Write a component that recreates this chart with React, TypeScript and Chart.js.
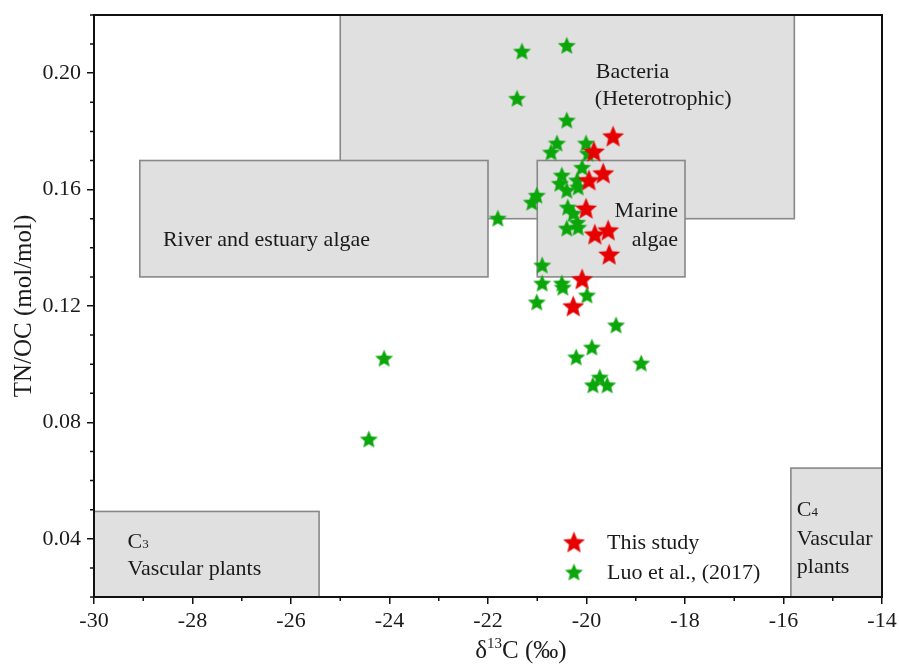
import React, { useEffect, useRef } from 'react';
import { Chart, registerables } from 'chart.js';

Chart.register(...registerables);

const FONT = "'Liberation Serif', 'Times New Roman', serif";
const TEXT = '#1a1a1a';

// ---- Data: This study ----
const thisStudyD13C = [-19.46, -19.85, -19.66, -19.95, -20.01, -19.83, -19.56, -19.54, -20.09, -20.27];
const thisStudyTNOC = [0.1784, 0.1732, 0.1657, 0.1633, 0.1536, 0.1447, 0.1461, 0.1378, 0.1293, 0.12];

// ---- Data: Luo et al., (2017) ----
const luoD13C = [
  -21.31, -20.4, -21.41, -20.4, -20.6, -20.72, -20.01, -19.97, -20.09, -20.5,
  -20.54, -20.19, -20.4, -20.17, -21.01, -21.11, -21.8, -20.38, -20.27, -20.19,
  -20.4, -20.17, -20.9, -20.9, -20.5, -20.48, -19.99, -21.01, -19.4, -19.89,
  -20.21, -18.89, -19.73, -19.87, -19.58, -24.11, -24.42,
];
const luoTNOC = [
  0.2076, 0.2096, 0.1914, 0.1839, 0.176, 0.1729, 0.176, 0.1725, 0.1677, 0.165,
  0.1622, 0.1633, 0.1598, 0.1609, 0.1581, 0.1557, 0.1502, 0.154, 0.1519, 0.1488,
  0.1468, 0.1471, 0.1341, 0.1279, 0.1279, 0.1265, 0.1238, 0.1214, 0.1135, 0.1059,
  0.1025, 0.1004, 0.0956, 0.0929, 0.0929, 0.1021, 0.0743,
];

const seriesLabels = ['This study', 'Luo et al., (2017)'];
const seriesColors = ['#e60000', '#0aa60a'];

// ---- Axes ----
const xMin = -30;
const xMax = -14;
const yMin = 0.02;
const yMax = 0.22;
const xTickValues = [-30, -28, -26, -24, -22, -20, -18, -16, -14];
const xMinorValues = [-29, -27, -25, -23, -21, -19, -17, -15];
const yTickValues = [0.04, 0.08, 0.12, 0.16, 0.2];
const yMinorValues = [0.02, 0.03, 0.05, 0.06, 0.07, 0.09, 0.1, 0.11, 0.13, 0.14, 0.15, 0.17, 0.18, 0.19, 0.21, 0.22];

// ---- Source regions (data coordinates) ----
const regionXMin = [-25, -29.07, -21, -30, -15.85];
const regionXMax = [-15.78, -22, -18, -25.43, -14];
const regionYMin = [0.15, 0.13, 0.13, 0.02, 0.02];
const regionYMax = [0.22, 0.17, 0.17, 0.0494, 0.0643];

// ---- Region labels: text, anchor x, baseline y, alignment ----
const labelTexts = ['Bacteria', '(Heterotrophic)', 'River and estuary algae', 'Marine', 'algae', 'C_3', 'Vascular plants', 'C_4', 'Vascular', 'plants'];
const labelX = [-19.81, -19.83, -28.6, -18.14, -18.14, -29.32, -29.32, -15.73, -15.73, -15.73];
const labelY = [0.1983, 0.189, 0.1405, 0.1505, 0.1405, 0.037, 0.0274, 0.0477, 0.038, 0.0284];
const labelAlign = ['left', 'left', 'left', 'right', 'right', 'left', 'left', 'left', 'left', 'left'];

function makeStar(outer: number, color: string): HTMLCanvasElement {
  const size = Math.ceil(outer * 2 + 2);
  const c = document.createElement('canvas');
  c.width = size;
  c.height = size;
  const ctx = c.getContext('2d') as CanvasRenderingContext2D;
  const cx = size / 2;
  const cy = size / 2 + outer * 0.095;
  const inner = outer * 0.45;
  ctx.beginPath();
  for (let i = 0; i < 10; i++) {
    const r = i % 2 === 0 ? outer : inner;
    const a = -Math.PI / 2 + (i * Math.PI) / 5;
    const px = cx + r * Math.cos(a);
    const py = cy + r * Math.sin(a);
    if (i === 0) ctx.moveTo(px, py);
    else ctx.lineTo(px, py);
  }
  ctx.closePath();
  ctx.fillStyle = color;
  ctx.fill();
  return c;
}

function drawLabel(ctx: CanvasRenderingContext2D, text: string, x: number, y: number, align: string) {
  ctx.textBaseline = 'alphabetic';
  const m = /^C_(\d)$/.exec(text);
  if (m) {
    ctx.font = `22px ${FONT}`;
    ctx.textAlign = 'left';
    ctx.fillText('C', x, y);
    const w = ctx.measureText('C').width;
    ctx.font = `13px ${FONT}`;
    ctx.fillText(m[1], x + w, y);
    return;
  }
  ctx.font = `22px ${FONT}`;
  ctx.textAlign = align as CanvasTextAlign;
  ctx.fillText(text, x, y);
}

export default function App() {
  const ref = useRef<HTMLCanvasElement | null>(null);

  useEffect(() => {
    const canvas = ref.current;
    if (!canvas) return;
    const stars = [makeStar(11.5, seriesColors[0]), makeStar(9.5, seriesColors[1])];

    const regionsPlugin = {
      id: 'regions',
      beforeDatasetsDraw(chart: any) {
        const { ctx, chartArea } = chart;
        const xs = chart.scales.x;
        const ys = chart.scales.y;
        ctx.save();
        ctx.beginPath();
        ctx.rect(chartArea.left, chartArea.top, chartArea.right - chartArea.left, chartArea.bottom - chartArea.top);
        ctx.clip();
        for (let i = 0; i < regionXMin.length; i++) {
          const x1 = xs.getPixelForValue(regionXMin[i]);
          const x2 = xs.getPixelForValue(regionXMax[i]);
          const y1 = ys.getPixelForValue(regionYMax[i]);
          const y2 = ys.getPixelForValue(regionYMin[i]);
          ctx.fillStyle = '#e0e0e0';
          ctx.fillRect(x1, y1, x2 - x1, y2 - y1);
          ctx.strokeStyle = '#888888';
          ctx.lineWidth = 1.6;
          ctx.strokeRect(x1, y1, x2 - x1, y2 - y1);
        }
        ctx.fillStyle = TEXT;
        for (let i = 0; i < labelTexts.length; i++) {
          drawLabel(ctx, labelTexts[i], xs.getPixelForValue(labelX[i]), ys.getPixelForValue(labelY[i]), labelAlign[i]);
        }
        ctx.restore();
      },
      afterDraw(chart: any) {
        const { ctx, chartArea } = chart;
        const xs = chart.scales.x;
        const ys = chart.scales.y;
        const { left, right, top, bottom } = chartArea;
        ctx.save();
        // frame
        ctx.strokeStyle = '#111';
        ctx.lineWidth = 2;
        ctx.strokeRect(left, top, right - left, bottom - top);
        // minor ticks
        ctx.lineWidth = 1.5;
        ctx.beginPath();
        for (const v of xMinorValues) {
          const px = xs.getPixelForValue(v);
          ctx.moveTo(px, bottom);
          ctx.lineTo(px, bottom + 4);
        }
        for (const v of yMinorValues) {
          const py = ys.getPixelForValue(v);
          ctx.moveTo(left, py);
          ctx.lineTo(left - 4, py);
        }
        ctx.stroke();
        // legend
        const lx = left + 480;
        const rowY = [bottom - 55, bottom - 25];
        for (let i = 0; i < seriesLabels.length; i++) {
          const s = stars[i];
          ctx.drawImage(s, lx - s.width / 2, rowY[i] - s.height / 2);
          ctx.fillStyle = TEXT;
          ctx.font = `22px ${FONT}`;
          ctx.textAlign = 'left';
          ctx.textBaseline = 'alphabetic';
          ctx.fillText(seriesLabels[i], lx + 33, rowY[i] + 7);
        }
        // x-axis title with superscript
        ctx.fillStyle = TEXT;
        ctx.textBaseline = 'alphabetic';
        ctx.textAlign = 'left';
        ctx.font = `25px ${FONT}`;
        const wD = ctx.measureText('δ').width;
        const wRest = ctx.measureText('C (‰)').width;
        ctx.font = `15px ${FONT}`;
        const wSup = ctx.measureText('13').width;
        const total = wD + wSup + wRest;
        const cx = (left + right) / 2 + 33;
        const base = bottom + 61;
        let x = cx - total / 2;
        ctx.font = `25px ${FONT}`;
        ctx.fillText('δ', x, base);
        x += wD;
        ctx.font = `15px ${FONT}`;
        ctx.fillText('13', x, base - 10);
        x += wSup;
        ctx.font = `25px ${FONT}`;
        ctx.fillText('C (‰)', x, base);
        ctx.restore();
      },
    };

    const zeroPad = (scale: any) => {
      scale.paddingLeft = 0;
      scale.paddingRight = 0;
      scale.paddingTop = 0;
      scale.paddingBottom = 0;
    };

    const chart = new Chart(canvas, {
      type: 'scatter',
      data: {
        datasets: [
          {
            label: seriesLabels[0],
            data: thisStudyD13C.map((v, i) => ({ x: v, y: thisStudyTNOC[i] })),
            pointStyle: stars[0] as any,
            pointRadius: 10,
            backgroundColor: seriesColors[0],
            borderColor: seriesColors[0],
          },
          {
            label: seriesLabels[1],
            data: luoD13C.map((v, i) => ({ x: v, y: luoTNOC[i] })),
            pointStyle: stars[1] as any,
            pointRadius: 8,
            backgroundColor: seriesColors[1],
            borderColor: seriesColors[1],
          },
        ],
      },
      options: {
        animation: false,
        responsive: false,
        maintainAspectRatio: false,
        layout: { padding: { top: 15, right: 17, left: 0, bottom: 0 } },
        plugins: {
          legend: { display: false },
          tooltip: { enabled: false },
        },
        scales: {
          x: {
            type: 'linear',
            position: 'bottom',
            min: xMin,
            max: xMax,
            afterBuildTicks: (scale: any) => {
              scale.ticks = xTickValues.map((v) => ({ value: v }));
            },
            afterFit: (scale: any) => {
              scale.height = 68;
              zeroPad(scale);
            },
            border: { display: false },
            grid: { drawOnChartArea: false, drawTicks: true, tickLength: 7, color: '#111', lineWidth: 1.5 },
            ticks: {
              autoSkip: false,
              maxRotation: 0,
              padding: 4,
              color: TEXT,
              font: { family: FONT, size: 22 },
              callback: (v: any) => String(v),
            },
          },
          y: {
            type: 'linear',
            position: 'left',
            min: yMin,
            max: yMax,
            afterBuildTicks: (scale: any) => {
              scale.ticks = yTickValues.map((v) => ({ value: v }));
            },
            afterFit: (scale: any) => {
              scale.width = 94;
              zeroPad(scale);
            },
            border: { display: false },
            grid: { drawOnChartArea: false, drawTicks: true, tickLength: 7, color: '#111', lineWidth: 1.5 },
            ticks: {
              autoSkip: false,
              padding: 6,
              color: TEXT,
              font: { family: FONT, size: 22 },
              callback: (v: any) => Number(v).toFixed(2),
            },
            title: {
              display: true,
              text: 'TN/OC (mol/mol)',
              color: TEXT,
              font: { family: FONT, size: 25 },
              padding: { top: 9, bottom: 0 },
            },
          },
        },
      },
      plugins: [regionsPlugin],
    });

    return () => chart.destroy();
  }, []);

  return (
    <div style={{ position: 'absolute', left: 0, top: 0, width: 899, height: 665, background: '#fff' }}>
      <canvas ref={ref} width={899} height={665} style={{ width: 899, height: 665, display: 'block' }} />
    </div>
  );
}
